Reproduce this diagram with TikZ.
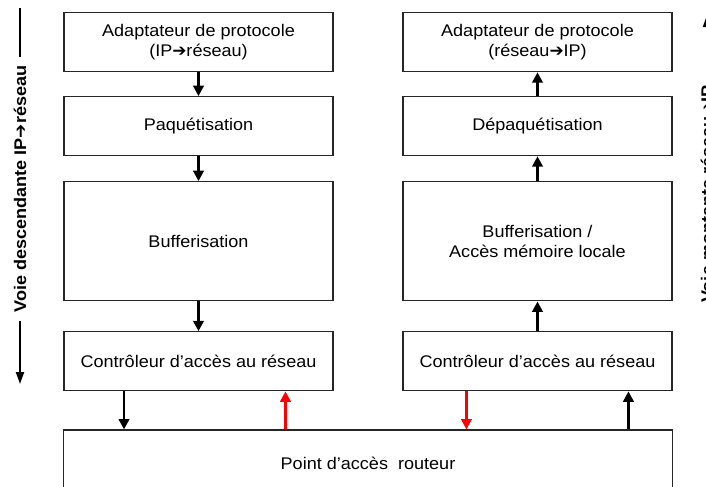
\documentclass[tikz,border=0pt]{standalone}
\usepackage{fontspec}
\setmainfont{Liberation Sans}[FakeStretch=1.07]
\newfontfamily\flechefont{DejaVu Sans}
\usepackage{tikz}
\usetikzlibrary{arrows.meta, positioning}

\newcommand{\fl}{{\flechefont ➔}}

\begin{document}
\begin{tikzpicture}[
    x=0.025cm, y=-0.025cm,
    bloc/.style={rectangle, draw=black!85, line width=0.8pt, minimum width=6.725cm, minimum height=1.475cm, align=center, inner sep=0pt, font=\fontsize{12}{14.5}\selectfont},
    fleche/.style={-{Triangle[length=2.6mm, width=2.6mm]}, line width=2.1pt},
    voie/.style={rotate=90, inner xsep=6pt, inner ysep=0pt, font=\bfseries\fontsize{12}{14}\selectfont},
    trait/.style={line width=1.4pt}
]
\clip (0,0) rectangle (706,487);

% voie descendante
\node[bloc] (adaptL) at (198.5,42.2) {Adaptateur de protocole\\(IP\fl réseau)};
\node[bloc] (paqL) at (198.5,126.2) {Paquétisation};
\node[bloc, minimum height=2.98cm] (bufL) at (198.5,241.3) {Bufferisation};
\node[bloc] (ctrlL) at (198.5,361.3) {Contrôleur d’accès au réseau};

% voie montante
\node[bloc] (adaptR) at (537.5,42.2) {Adaptateur de protocole\\(réseau\fl IP)};
\node[bloc] (paqR) at (537.5,126.2) {Dépaquétisation};
\node[bloc, minimum height=2.98cm] (bufR) at (537.5,241.3) {Bufferisation /\\Accès mémoire locale};
\node[bloc] (ctrlR) at (537.5,361.3) {Contrôleur d’accès au réseau};

\node[bloc, minimum width=15.2cm, minimum height=1.65cm] (pa) at (368,463) {Point d’accès\ \ routeur};

\draw[fleche] (adaptL) -- (paqL);
\draw[fleche] (paqL) -- (bufL);
\draw[fleche] (bufL) -- (ctrlL);
\draw[fleche] (ctrlR) -- (bufR);
\draw[fleche] (bufR) -- (paqR);
\draw[fleche] (paqR) -- (adaptR);

% liaisons avec le routeur
\coordinate (bL1) at ([xshift=1.515cm]ctrlL.south west);
\coordinate (bL2) at ([xshift=5.55cm]ctrlL.south west);
\coordinate (bR1) at ([xshift=1.6cm]ctrlR.south west);
\coordinate (bR2) at ([xshift=5.65cm]ctrlR.south west);
\draw[fleche] (bL1) -- (bL1 |- pa.north);
\draw[fleche, red] (bL2 |- pa.north) -- (bL2);
\draw[fleche, red] (bR1) -- (bR1 |- pa.north);
\draw[fleche] (bR2 |- pa.north) -- (bR2);

% annotations laterales
\node[voie] (desc) at (20,189) {Voie descendante IP\fl réseau};
\coordinate (desctop) at (20,8);
\coordinate (descbas) at (20,384);
\draw[trait] (desctop) -- (desc.east);
\draw[trait, -{Triangle[length=3mm, width=2mm]}] (desc.west) -- (descbas);

\node[voie] (mont) at (707,194) {Voie montante réseau\fl IP};
\coordinate (monttop) at (707,15);
\coordinate (montbas) at (707,384);
\draw[trait] (montbas) -- (mont.west);
\draw[trait, -{Triangle[length=3mm, width=2mm]}] (mont.east) -- (monttop);
\end{tikzpicture}
\end{document}
